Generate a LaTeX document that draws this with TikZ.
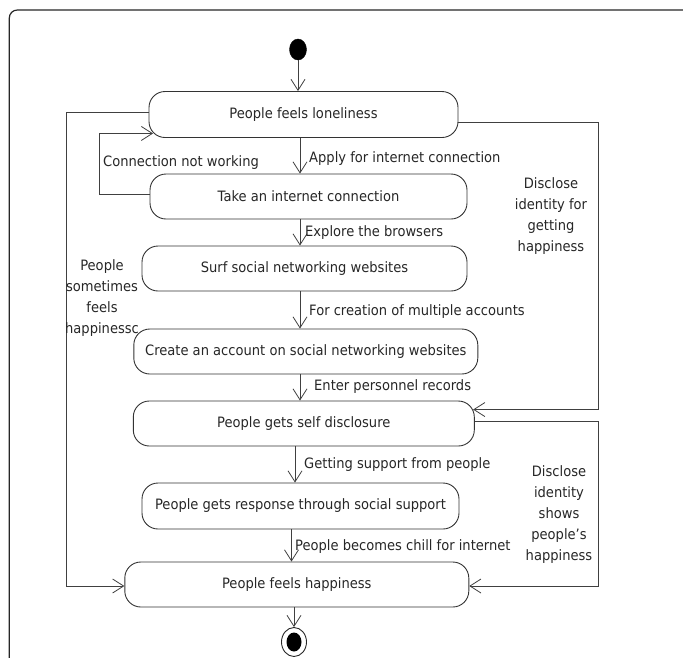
\documentclass[tikz,border=0pt]{standalone}
\usepackage{fontspec}
\setmainfont{DejaVu Sans}[FakeStretch=0.915]
\usetikzlibrary{arrows.meta,calc,shapes.geometric}
\newcommand\actfont{\fontsize{14.3}{21}\selectfont}
\begin{document}
\begin{tikzpicture}[x=1pt,y=-1pt,
  act/.style={draw=black!80, line width=0.9pt, rounded corners=16pt, inner sep=0pt, font=\actfont, text=black!85},
  arr/.style={draw=black!75, line width=0.8pt, -{Straight Barb[length=11pt,width=14pt]}},
  lbl/.style={font=\actfont, inner sep=0pt, anchor=west, text=black!85},
  blk/.style={font=\actfont, inner sep=0pt, align=center, text=black!85},
]
\useasboundingbox (0,0) rectangle (683,657);
% outer frame
\draw[line width=1.2pt, black!85, rounded corners=8pt] (9.3,670) -- (9.3,10) -- (700,10);

% activity nodes
\node[act, minimum width=309pt, minimum height=46pt] (n1) at (303.5,114.5) {People feels loneliness};
\node[act, minimum width=317pt, minimum height=45pt] (n2) at (308.5,196.5) {Take an internet connection};
\node[act, minimum width=325pt, minimum height=45pt] (n3) at (304.5,268.5) {Surf social networking websites};
\node[act, minimum width=344pt, minimum height=45pt] (n4) at (305.8,351.5) {Create an account on social networking websites};
\node[act, minimum width=341pt, minimum height=45pt] (n5) at (303.8,423.5) {People gets self disclosure};
\node[act, minimum width=317pt, minimum height=46pt] (n6) at (300.5,506) {People gets response through social support};
\node[act, minimum width=344pt, minimum height=45pt] (n7) at (296.8,584.5) {People feels happiness};

% start / end
\node[ellipse, fill=black, draw=black, minimum width=17pt, minimum height=21pt, inner sep=0pt] (start) at (298,49.5) {};
\node[ellipse, draw=black!85, line width=0.9pt, minimum width=25pt, minimum height=29pt, inner sep=0pt] (end) at (294,642) {};
\fill[black] (end.center) ellipse [x radius=7.5, y radius=9.5];

% helper coordinates
\coordinate (ax1) at (300,0);
\coordinate (ax2) at (295,0);
\coordinate (ax3) at (291.5,0);
\coordinate (L) at (66,0);
\coordinate (R) at (598,0);
\coordinate (n1w) at ([yshift=2.5pt]n1.west);
\coordinate (n7w) at ([yshift=-1.5pt]n7.west);
\coordinate (n7e) at ([yshift=-1.5pt]n7.east);
\coordinate (n1e) at ([yshift=-7.5pt]n1.east);
\coordinate (n2w) at ([yshift=2.5pt]n2.west);
\coordinate (n5e) at ([yshift=2.5pt]n5.east);
\coordinate (n1cn) at ($(n1.south west)+(4.5,-4.5)$);
\coordinate (n5in) at ($(n5.north east)+(-1.6,9)$);

% main flow
\draw[arr] (start.south) -- (start.south |- n1.north);
\draw[arr] (n1.south -| ax1) -- (n2.north -| ax1);
\draw[arr] (n2.south -| ax1) -- (n3.north -| ax1);
\draw[arr] (n3.south -| ax1) -- (n4.north -| ax1);
\draw[arr] (n4.south -| ax1) -- (n5.north -| ax1);
\draw[arr] (n5.south -| ax2) -- (n6.north -| ax2);
\draw[arr] (n6.south -| ax3) -- (n7.north -| ax3);
\draw[arr] (n7.south -| end) -- (end.north);

% loops
\draw[arr] (n1w) -- (n1w -| L) -- (n7w -| L) -- (n7w);
\draw[arr] (n2w) -- ++(-50,0) |- (n1cn);
\draw[arr] (n1e) -- (n1e -| R) -- (n5in -| R) -- (n5in);
\draw[arr] (n5e) -- (n5e -| R) -- (n7e -| R) -- (n7e);

% labels
\node[lbl] (l1) at (309,159) {Apply for internet connection};
\node[lbl] (l2) at (305,233) {Explore the browsers};
\node[lbl] (l3) at (309,312) {For creation of multiple accounts};
\node[lbl] (l4) at (314,387) {Enter personnel records};
\node[lbl] (l5) at (304,465) {Getting support from people};
\node[lbl] (l6) at (295,547) {People becomes chill for internet};
\node[lbl] (l7) at (103,163) {Connection not working};
\node[blk] (b1) at (102,298.5) {People\\sometimes\\feels\\happinessc};
\node[blk] (b2) at (551,216) {Disclose\\identity for\\getting\\happiness};
\node[blk] (b3) at (559,514.5) {Disclose\\identity\\shows\\people{\char"0027}s\\happiness};
\end{tikzpicture}
\end{document}
